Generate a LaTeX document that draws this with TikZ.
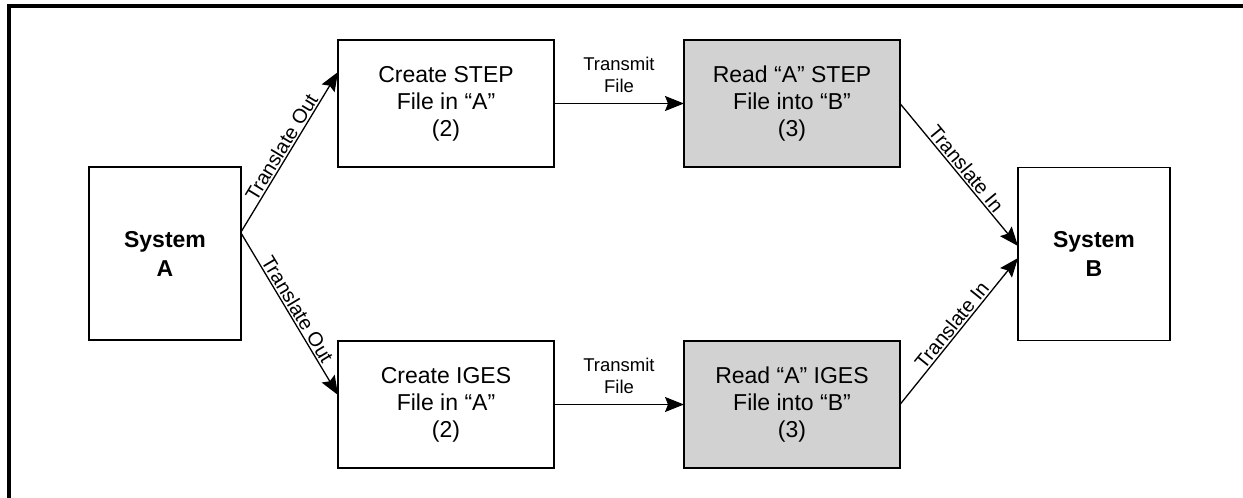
\documentclass[tikz,border=0pt]{standalone}
\usepackage{fontspec}
\setmainfont{Liberation Sans}
\usetikzlibrary{arrows.meta}
\begin{document}
\begin{tikzpicture}[x=1pt,y=-1pt,
 box/.style={draw, line width=1.8pt, inner sep=0pt, outer sep=0pt, align=center, font=\fontsize{23}{27}\selectfont},
 sysbox/.style={box, minimum width=152pt, minimum height=173pt, font=\fontsize{23}{29}\selectfont\bfseries},
 procbox/.style={box, minimum width=216pt, minimum height=127pt},
 readbox/.style={procbox, fill=gray!35},
 arr/.style={line width=1.3pt, -{Stealth[length=19pt,width=15pt,inset=3pt]}},
 lbl/.style={font=\fontsize{20}{24}\selectfont, sloped, above, inner sep=1.5pt, pos=0.5},
 tlbl/.style={font=\fontsize{18.5}{21.7}\selectfont, align=center, above=10pt, inner sep=0pt, midway}
]
\useasboundingbox (0,0) rectangle (1243,498);
\draw[line width=4pt] (9,505) -- (9,6) -- (1250,6);

\node[sysbox] (sysA) at (165,253.5) {System\\A};
\node[sysbox] (sysB) at (1094,254) {System\\B};
\node[procbox] (cstep) at (446,103.5) {Create STEP\\File in “A”\\(2)};
\node[readbox] (rstep) at (792,103.5) {Read “A” STEP\\File into “B”\\(3)};
\node[procbox] (ciges) at (446,404.5) {Create IGES\\File in “A”\\(2)};
\node[readbox] (riges) at (792,404.5) {Read “A” IGES\\File into “B”\\(3)};

\draw[arr] ([yshift=21.5pt]sysA.east) -- node[lbl]{Translate Out} ([yshift=31.5pt]cstep.west);
\draw[arr] ([yshift=20.5pt]sysA.east) -- node[lbl]{Translate Out} ([yshift=9.5pt]ciges.west);
\draw[arr] (cstep.east) -- node[tlbl]{Transmit\\File} (rstep.west);
\draw[arr] (ciges.east) -- node[tlbl]{Transmit\\File} (riges.west);
\draw[arr] (rstep.east) -- node[lbl]{Translate In} ([yshift=8pt]sysB.west);
\draw[arr] (riges.east) -- node[lbl]{Translate In} ([yshift=-4pt]sysB.west);
\end{tikzpicture}
\end{document}
